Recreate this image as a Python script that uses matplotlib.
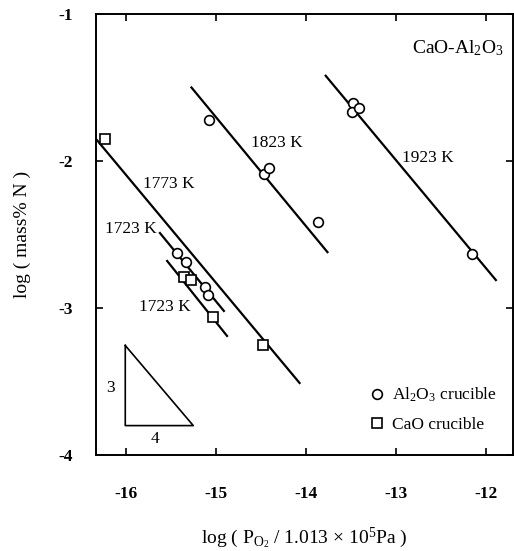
import matplotlib
matplotlib.use("Agg")
import matplotlib.pyplot as plt

plt.rcParams['font.family'] = ['Liberation Serif', 'DejaVu Serif']
plt.rcParams['mathtext.fontset'] = 'custom'
plt.rcParams['mathtext.rm'] = 'Liberation Serif'
plt.rcParams['mathtext.it'] = 'Liberation Serif:italic'
plt.rcParams['axes.unicode_minus'] = False

# Al2O3 crucible (circles)
al_x = [-15.075, -14.465, -14.41, -13.87, -13.48, -13.49, -13.41, -12.16,
        -15.43, -15.33, -15.12, -15.086]
al_y = [-1.72, -2.09, -2.05, -2.415, -1.605, -1.665, -1.64, -2.63,
        -2.625, -2.69, -2.855, -2.91]

# CaO crucible (squares)
cao_x = [-16.23, -15.35, -15.27, -15.03, -14.48]
cao_y = [-1.85, -2.79, -2.81, -3.06, -3.255]

# fitted lines, slope about -3/4 (x start, x end, y start, y end)
line_names = ['1773 K', '1823 K', '1923 K', '1723 K', '1723 K']
line_x0 = [-16.33, -15.27, -13.78, -15.62, -15.54]
line_x1 = [-14.07, -13.76, -11.89, -14.91, -14.875]
line_y0 = [-1.85, -1.50, -1.42, -2.49, -2.68]
line_y1 = [-3.51, -2.62, -2.81, -3.02, -3.19]

label_x = [-15.52, -14.32, -12.64, -15.94, -15.57]
label_y = [-2.155, -1.875, -1.98, -2.46, -2.99]

# slope triangle
tri_x = [-16.005, -16.005, -15.25, -16.005]
tri_y = [-3.255, -3.80, -3.80, -3.255]

fig = plt.figure(figsize=(5.14, 5.51), dpi=100)
ax = fig.add_axes([96 / 514, 96 / 551, 417 / 514, 441 / 551])

for i in range(len(line_names)):
    ax.plot([line_x0[i], line_x1[i]], [line_y0[i], line_y1[i]], color='black', lw=1.6)
    ax.text(label_x[i], label_y[i], line_names[i], fontsize=12.5, ha='center', va='center')

ax.plot(al_x, al_y, 'o', ms=7, mfc='white', mec='black', mew=1.2, ls='none',
        label=r'Al$_2$O$_3$ crucible')
ax.plot(cao_x, cao_y, 's', ms=7, mfc='white', mec='black', mew=1.2, ls='none',
        label='CaO crucible')

ax.plot(tri_x, tri_y, color='black', lw=1.2)
ax.text(-16.17, -3.545, '3', fontsize=12.5, ha='center', va='center')
ax.text(-15.68, -3.89, '4', fontsize=12.5, ha='center', va='center')

ax.text(-11.8, -1.23, r'CaO-Al$_2$O$_3$', fontsize=14, ha='right', va='center')

ax.set_xlim(-16.33, -11.7)
ax.set_ylim(-4, -1)
ax.set_xticks([-16, -15, -14, -13, -12])
ax.set_yticks([-4, -3, -2, -1])
ax.tick_params(direction='in', top=True, right=True, length=5, width=1.2,
               labelsize=12.5)
ax.tick_params(axis='x', pad=22)
ax.tick_params(axis='y', pad=17)
for lab in ax.get_xticklabels() + ax.get_yticklabels():
    lab.set_fontweight('bold')
for s in ax.spines.values():
    s.set_linewidth(1.4)

ax.set_xlabel(r'log ( P$_{\mathrm{O_2}}$ / 1.013 $\times$ 10$^5$Pa )', fontsize=14, labelpad=17)
ax.set_ylabel('log ( mass% N )', fontsize=14, labelpad=19)

ax.legend(loc='lower right', bbox_to_anchor=(1.0, 0.014), frameon=False,
          fontsize=12.5, handlelength=0.8, handletextpad=0.5, labelspacing=0.75)

fig.savefig('out.png', dpi=100)
